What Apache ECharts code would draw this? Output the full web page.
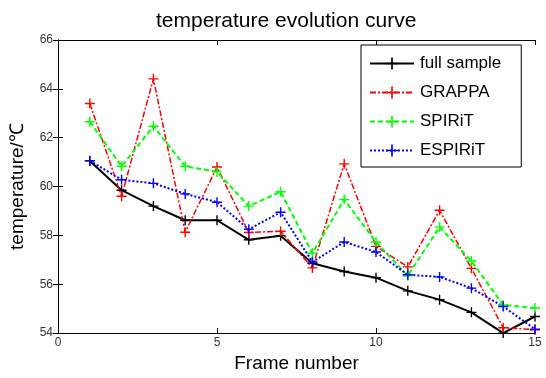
<!DOCTYPE html>
<html><head><meta charset="utf-8">
<script src="https://cdn.jsdelivr.net/npm/echarts@6/dist/echarts.min.js"></script>
<style>html,body{margin:0;padding:0;background:#fff}#c{width:546px;height:378px}</style>
</head><body><div id="c"></div>
<script>
const frames = [1,2,3,4,5,6,7,8,9,10,11,12,13,14,15];
const fullSample = [61.05,59.85,59.2,58.62,58.62,57.82,57.99,56.86,56.52,56.27,55.73,55.37,54.85,54.0,54.68];
const grappa = [63.4,59.6,64.41,58.13,60.8,58.12,58.17,56.67,60.93,57.55,56.71,59.03,56.65,54.22,54.14];
const spirit = [62.65,60.83,62.47,60.83,60.6,59.2,59.79,57.27,59.47,57.73,56.35,58.34,56.95,55.15,55.03];
const espirit = [61.06,60.28,60.13,59.7,59.36,58.25,58.95,56.91,57.73,57.32,56.39,56.3,55.84,55.09,54.16];
const seriesNames = ['full sample','GRAPPA','SPIRiT','ESPIRiT'];
const xTicks = [0,5,10,15];
const yTicks = [54,56,58,60,62,64,66];

const plus = 'path://M4.3,0h1.4v4.3h4.3v1.4h-4.3v4.3h-1.4v-4.3h-4.3v-1.4h4.3z';
const font = 'Liberation Sans, Arial, sans-serif';
function mk(name, data, color, type, width) {
  return {
    name, type: 'line', data: frames.map((f,i)=>[f,data[i]]),
    symbol: plus, symbolSize: 10, showSymbol: true,
    itemStyle: {color},
    lineStyle: {color, type, width},
    emphasis: {disabled: true}, animation: false
  };
}
const chart = echarts.init(document.getElementById('c'));
const axisLine = {show: true, lineStyle: {color: '#000', width: 1}};
chart.setOption({
  animation: false,
  title: {text: 'temperature evolution curve', left: 151, top: 6,
    textStyle: {fontFamily: font, fontSize: 21, fontWeight: 'normal', color: '#000'}},
  grid: {left: 56, right: 11, top: 40, bottom: 30, containLabel: false},
  legend: {
    orient: 'vertical', left: 361, top: 45,
    backgroundColor: '#fff', borderColor: '#000', borderWidth: 1,
    padding: [10, 20, 8, 8], itemGap: 12, itemWidth: 44, itemHeight: 15,
    textStyle: {fontFamily: font, fontSize: 17, color: '#000', padding: [0,0,0,1]},
    data: seriesNames
  },
  xAxis: [{
    type: 'value', min: 0, max: 15, interval: 5,
    name: 'Frame number', nameLocation: 'middle', nameGap: 17,
    nameTextStyle: {fontFamily: font, fontSize: 19, color: '#000'},
    axisLine, splitLine: {show: false},
    axisTick: {show: true, inside: true, length: 5, lineStyle: {color: '#000'}},
    axisLabel: {fontFamily: font, fontSize: 12, color: '#333', margin: 4,
      formatter: v => xTicks.includes(v) ? String(v) : ''}
  },{
    type: 'value', position: 'top', min: 0, max: 15, interval: 5,
    axisLine, splitLine: {show: false}, axisLabel: {show: false},
    axisTick: {show: true, inside: true, length: 5, lineStyle: {color: '#000'}}
  }],
  yAxis: [{
    type: 'value', min: 54, max: 66, interval: 2,
    name: 'temperature/℃', nameLocation: 'middle', nameGap: 31, nameRotate: 90,
    nameTextStyle: {fontFamily: font, fontSize: 19, color: '#000'},
    axisLine, splitLine: {show: false},
    axisTick: {show: true, inside: true, length: 5, lineStyle: {color: '#000'}},
    axisLabel: {fontFamily: font, fontSize: 12, color: '#333', margin: 5,
      formatter: v => yTicks.includes(v) ? String(v) : ''}
  },{
    type: 'value', position: 'right', min: 54, max: 66, interval: 2,
    axisLine, splitLine: {show: false}, axisLabel: {show: false},
    axisTick: {show: true, inside: true, length: 5, lineStyle: {color: '#000'}}
  }],
  series: [
    mk(seriesNames[0], fullSample, '#000000', 'solid', 2),
    mk(seriesNames[1], grappa, '#ff0000', [6,2,2,2], 1.5),
    mk(seriesNames[2], spirit, '#00ff00', [5,3], 2),
    mk(seriesNames[3], espirit, '#0000ff', [2,2], 2)
  ]
});
</script></body></html>
